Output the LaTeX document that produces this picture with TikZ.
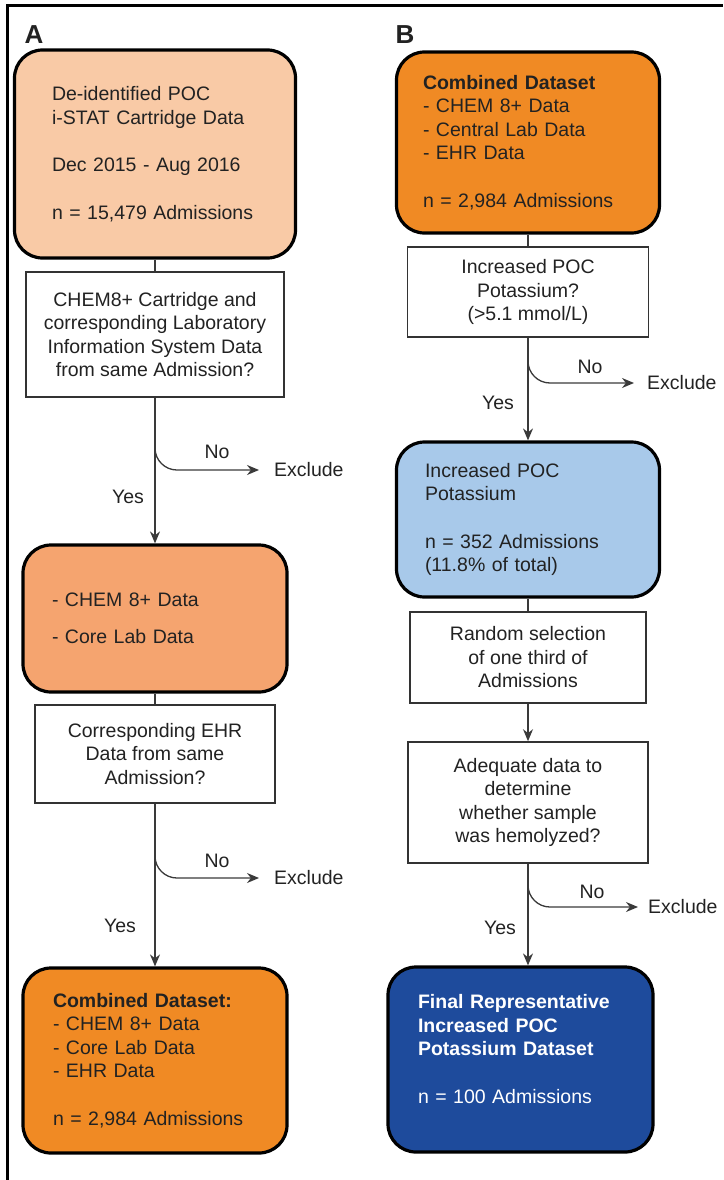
\documentclass[tikz,border=0pt]{standalone}
\usepackage{fontspec}
\setmainfont{Liberation Sans}
\usetikzlibrary{arrows.meta}
\definecolor{peach}{HTML}{F9CAA6}
\definecolor{salmon}{HTML}{F5A46F}
\definecolor{orangebox}{HTML}{F08A24}
\definecolor{lightblue}{HTML}{A8C9EA}
\definecolor{darkblue}{HTML}{1E4B9C}
\definecolor{txt}{HTML}{222222}
\definecolor{qline}{HTML}{333333}
\definecolor{cline}{HTML}{3A3A3A}
\begin{document}
\begin{tikzpicture}[x=1pt,y=-1pt,
  every node/.style={font=\fontsize{19.5}{23.5}\selectfont, text=txt},
  rbox/.style={draw=black, line width=3.2pt, rounded corners=28pt, align=left, inner sep=0pt},
  qbox/.style={draw=qline, line width=1.6pt, fill=white, align=center, inner sep=0pt},
  conn/.style={draw=cline, line width=1.3pt},
  arr/.style={conn, -{Stealth[length=12pt,width=10pt]}},
  exbranch/.style={arr, rounded corners=22pt},
  lab/.style={inner sep=0pt},
  panel/.style={inner sep=0pt, font=\bfseries\fontsize{26}{26}\selectfont}
]
\useasboundingbox (0,0) rectangle (723,1180);
\draw[line width=3pt, black] (7,1180) -- (7,6) -- (723,6);

\node[panel] (labA) at (34,35) {A};
\node[panel] (labB) at (405,35) {B};

% ---------- column A ----------
\node[rbox, fill=peach, minimum width=281pt, minimum height=208pt, text width=206pt] (A1) at (155,154)
  {De-identified POC\\ i-STAT Cartridge Data\\[24pt] Dec 2015 - Aug 2016\\[24pt] n = 15,479 Admissions};
\node[qbox, minimum width=258pt, minimum height=125pt] (A2) at (155,334.5)
  {CHEM8+ Cartridge and\\ corresponding Laboratory\\ Information System Data\\ from same Admission?};
\node[rbox, fill=salmon, minimum width=264pt, minimum height=147pt, text width=206pt] (A3) at (155,618.5)
  {- CHEM 8+ Data\\[13.5pt] - Core Lab Data};
\node[qbox, minimum width=240pt, minimum height=98pt] (A4) at (155,754)
  {Corresponding EHR\\ Data from same\\ Admission?};
\node[rbox, fill=orangebox, minimum width=264pt, minimum height=185pt, text width=204pt] (A5) at (155,1060.5)
  {\textbf{Combined Dataset:}\\ - CHEM 8+ Data\\ - Core Lab Data\\ - EHR Data\\[24pt] n = 2,984 Admissions};

% ---------- column B ----------
\node[rbox, fill=orangebox, minimum width=263pt, minimum height=181pt, text width=210pt] (B1) at (528,142.5)
  {\textbf{Combined Dataset}\\ - CHEM 8+ Data\\ - Central Lab Data\\ - EHR Data\\[24pt] n = 2,984 Admissions};
\node[qbox, minimum width=241pt, minimum height=90pt] (B2) at (528,292)
  {Increased POC\\ Potassium?\\ (>5.1 mmol/L)};
\node[rbox, fill=lightblue, minimum width=263pt, minimum height=155pt, text width=206pt] (B3) at (528,519.5)
  {Increased POC\\ Potassium\\[24pt] n = 352 Admissions\\ (11.8\% of total)};
\node[qbox, minimum width=236pt, minimum height=91pt] (B4) at (528,657.5)
  {Random selection\\ of one third of\\ Admissions};
\node[qbox, minimum width=240pt, minimum height=121pt] (B5) at (528,802.5)
  {Adequate data to\\ determine\\ whether sample\\ was hemolyzed?};
\node[rbox, fill=darkblue, minimum width=265pt, minimum height=185pt, text width=205pt, text=white] (B6) at (520.5,1059.5)
  {\textbf{Final Representative}\\ \textbf{Increased POC}\\ \textbf{Potassium Dataset}\\[24pt] n = 100 Admissions\\[-2pt]\mbox{}};

% ---------- main connectors ----------
\draw[conn] (A1.south) -- (A2.north);
\draw[arr]  (A2.south) -- (A3.north);
\draw[conn] (A3.south) -- (A4.north);
\draw[arr]  (A4.south) -- (A5.north);
\draw[conn] (B1.south) -- (B2.north);
\draw[arr]  (B2.south) -- (B3.north);
\draw[conn] (B3.south) -- (B4.north);
\draw[arr]  (B4.south) -- (B5.north);
\draw[arr]  (B5.south) -- (B5.south |- B6.north);

% ---------- exclusion branches ----------
\coordinate (nA1) at (155,443);
\coordinate (nA2) at (155,852);
\coordinate (nB1) at (528,357);
\coordinate (nB2) at (528,873);

\node[lab, anchor=west] (exA1) at (274,470) {Exclude};
\node[lab, anchor=west] (exA2) at (274,878) {Exclude};
\node[lab, anchor=west] (exB1) at (647,383) {Exclude};
\node[lab, anchor=west] (exB2) at (648,907) {Exclude};

\draw[exbranch] (nA1) |- ([xshift=-15pt]exA1.west);
\draw[exbranch] (nA2) |- ([xshift=-15pt]exA2.west);
\draw[exbranch] (nB1) |- ([xshift=-13pt]exB1.west);
\draw[exbranch] (nB2) |- ([xshift=-10pt]exB2.west);

\node[lab] (noA1) at (217,452) {No};
\node[lab] (noA2) at (217,861) {No};
\node[lab] (noB1) at (590,367) {No};
\node[lab] (noB2) at (592,892) {No};

\node[lab] (yesA1) at (128,497) {Yes};
\node[lab] (yesA2) at (120,926) {Yes};
\node[lab] (yesB1) at (498,403) {Yes};
\node[lab] (yesB2) at (500,928) {Yes};
\end{tikzpicture}
\end{document}
